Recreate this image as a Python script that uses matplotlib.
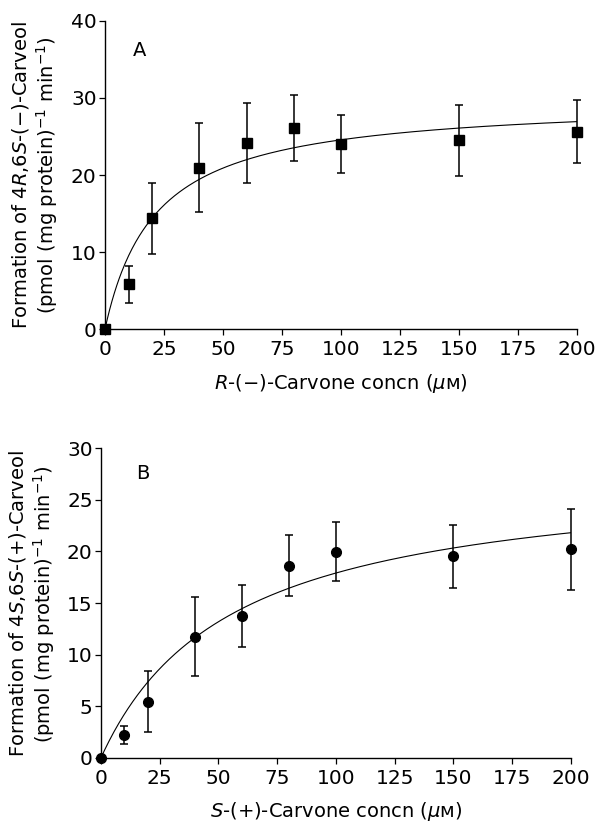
import numpy as np
import matplotlib
matplotlib.use("Agg")
import matplotlib.pyplot as plt

plt.rcParams['font.family'] = ['DejaVu Sans']
plt.rcParams['mathtext.fontset'] = 'dejavusans'

# Panel A data: R-(-)-carvone
conc_a = [0, 10, 20, 40, 60, 80, 100, 150, 200]
rate_a = [0, 5.8, 14.4, 20.9, 24.1, 26.1, 24.0, 24.5, 25.6]
err_a_hi = [0, 2.4, 4.6, 5.8, 5.2, 4.3, 3.8, 4.6, 4.1]
err_a_lo = [0, 2.4, 4.7, 5.7, 5.1, 4.3, 3.7, 4.6, 4.0]
vmax_a, km_a = 29.8, 21.3

# Panel B data: S-(+)-carvone
conc_b = [0, 10, 20, 40, 60, 80, 100, 150, 200]
rate_b = [0, 2.2, 5.4, 11.7, 13.7, 18.6, 19.9, 19.6, 20.2]
err_b_hi = [0, 0.9, 3.0, 3.9, 3.0, 3.0, 3.0, 3.0, 3.9]
err_b_lo = [0, 0.9, 2.9, 3.8, 3.0, 2.9, 2.8, 3.1, 3.9]
vmax_b, km_b = 27.9, 55.8

xticks = [0, 25, 50, 75, 100, 125, 150, 175, 200]
yticks_a = [0, 10, 20, 30, 40]
yticks_b = [0, 5, 10, 15, 20, 25, 30]

fig = plt.figure(figsize=(5.99, 8.23), dpi=100)
axA = fig.add_axes([0.1753, 0.6002, 0.963 - 0.1753, 0.9745 - 0.6002])
axB = fig.add_axes([0.1686, 0.0793, 0.953 - 0.1686, 0.4553 - 0.0793])

def style(ax, yticks, ymax):
    ax.set_xlim(0, 200)
    ax.set_ylim(0, ymax)
    ax.set_xticks(xticks)
    ax.set_yticks(yticks)
    for s in ['top', 'right']:
        ax.spines[s].set_visible(False)
    for s in ['left', 'bottom']:
        ax.spines[s].set_linewidth(1.0)
    ax.tick_params(direction='out', length=4, width=0.9, labelsize=14.5, pad=4)
    ax.tick_params(axis='y', pad=2)

xs = np.linspace(0, 200, 400)

# Panel A
axA.plot(xs, vmax_a * xs / (km_a + xs), color='black', lw=0.8, zorder=2)
axA.errorbar(conc_a, rate_a, yerr=[err_a_lo, err_a_hi], fmt='s', color='black',
             ms=7, capsize=3, elinewidth=1.1, capthick=1.1, zorder=3, clip_on=False)
style(axA, yticks_a, 40)
axA.set_xlabel(r'$R$-(−)-Carvone concn ($\mu$ᴍ)', fontsize=14, labelpad=9)
axA.set_ylabel('Formation of 4$R$,6$S$-(−)-Carveol\n(pmol (mg protein)$^{-1}$ min$^{-1}$)',
               fontsize=14, linespacing=1.15)
axA.yaxis.set_label_coords(-0.095, 0.5)
axA.text(14.8, 36.2, 'A', fontsize=14, ha='center', va='center')

# Panel B
axB.plot(xs, vmax_b * xs / (km_b + xs), color='black', lw=0.8, zorder=2)
axB.errorbar(conc_b, rate_b, yerr=[err_b_lo, err_b_hi], fmt='o', color='black',
             ms=7, capsize=3, elinewidth=1.1, capthick=1.1, zorder=3, clip_on=False)
style(axB, yticks_b, 30)
axB.set_xlabel(r'$S$-(+)-Carvone concn ($\mu$ᴍ)', fontsize=14, labelpad=9)
axB.set_ylabel('Formation of 4$S$,6$S$-(+)-Carveol\n(pmol (mg protein)$^{-1}$ min$^{-1}$)',
               fontsize=14, linespacing=1.15)
axB.yaxis.set_label_coords(-0.094, 0.497)
axB.text(17.9, 27.6, 'B', fontsize=14, ha='center', va='center')

fig.savefig('out.png', dpi=100)
